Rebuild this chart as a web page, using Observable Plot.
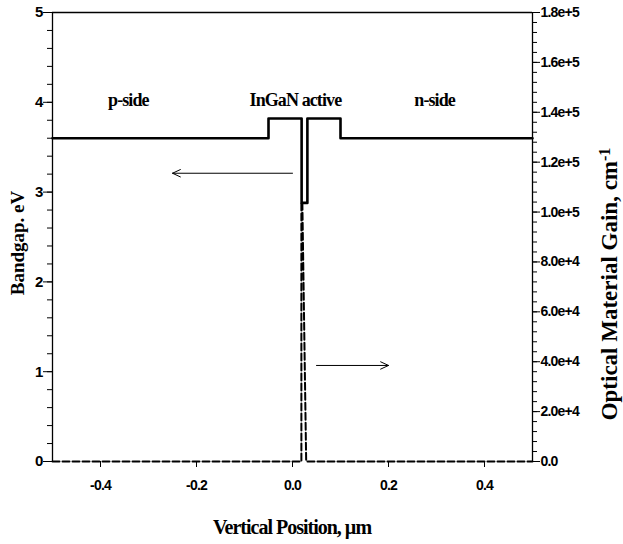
<!DOCTYPE html>
<html><head><meta charset="utf-8">
<script src="https://cdn.jsdelivr.net/npm/d3@7"></script>
<script src="https://cdn.jsdelivr.net/npm/@observablehq/plot@0.6"></script>
<style>
body{margin:0;background:#fff;}
#chart svg{overflow:visible;display:block;}
</style>
</head><body><div id="chart"></div>
<script>
// Bandgap profile (eV) vs vertical position (µm)
const bandX  = [-0.5, -0.05, -0.05, 0.019, 0.019, 0.031, 0.031, 0.1, 0.1, 0.5];
const bandEV = [3.6, 3.6, 3.82, 3.82, 2.88, 2.88, 3.82, 3.82, 3.6, 3.6];
// Optical material gain (cm^-1) vs vertical position (µm)
const gainX   = [-0.5, 0.0185, 0.0185, 0.0205, 0.0285, 0.5];
const gainVal = [0, 0, 104000, 104000, 0, 0];
// Axis ticks
const xTicks    = [-0.4, -0.2, 0.0, 0.2, 0.4];
const eVTicks   = [0, 1, 2, 3, 4, 5];
const gainTicks = [0, 20000, 40000, 60000, 80000, 100000, 120000, 140000, 160000, 180000];
// Region annotations
const regionLabels = ["p-side", "InGaN active", "n-side"];
const regionX      = [-0.342, 0.006, 0.296];
const regionY      = [4.02, 4.02, 4.02];
// Arrows pointing to each curve's axis
const arrowEV   = {x1: 0.0, x2: -0.25, y: 3.21};
const arrowGain = {x1: 0.05, x2: 0.2, y: 38500};

const GMAX = 180000, EMAX = 5;
const toEV = g => g / GMAX * EMAX;
const fmtGain = g => { const v = Math.round(g); return v === 0 ? "0.0" : d3.format(".1e")(v); };

const band = bandX.map((x, i) => ({x, y: bandEV[i]}));
const gain = gainX.map((x, i) => ({x, y: toEV(gainVal[i])}));
const regions = regionLabels.map((t, i) => ({t, x: regionX[i], y: regionY[i]}));
const arrows = [
  {x1: arrowEV.x1, x2: arrowEV.x2, y: arrowEV.y},
  {x1: arrowGain.x1, x2: arrowGain.x2, y: toEV(arrowGain.y)}
];

const tickFont = {fontFamily: "Liberation Sans, Arial, sans-serif", fontWeight: "bold", fontSize: 14};

const plot = Plot.plot({
  width: 623, height: 544,
  marginLeft: 52, marginRight: 91, marginTop: 12, marginBottom: 83,
  x: {domain: [-0.5, 0.5]},
  y: {domain: [0, EMAX]},
  marks: [
    Plot.axisY(d3.range(0, 5.0001, 0.2), {anchor: "left", tickSize: 5, tickFormat: () => "", label: null}),
    Plot.axisY(eVTicks, {anchor: "left", tickSize: 9, tickPadding: 1, label: null,
      tickFormat: d => String(d), ...tickFont, fontSize: 15}),
    Plot.axisY(d3.range(0, GMAX + 1, 4000).map(toEV), {anchor: "right", tickSize: 4, tickFormat: () => "", label: null}),
    Plot.axisY(gainTicks.map(toEV), {anchor: "right", tickSize: 7, tickPadding: 1, label: null,
      tickFormat: d => fmtGain(d * GMAX / EMAX), ...tickFont}),
    Plot.axisX(xTicks, {anchor: "bottom", tickSize: 6, tickPadding: 13, label: null,
      tickFormat: d => d.toFixed(1), ...tickFont}),
    Plot.ruleX([-0.5, 0.5], {y1: 0, y2: EMAX, stroke: "#000", strokeWidth: 1.3}),
    Plot.ruleY([EMAX], {stroke: "#000", strokeWidth: 1.3}),
    Plot.line(gain, {x: "x", y: "y", stroke: "#000", strokeWidth: 2, strokeDasharray: "7,3"}),
    Plot.line(band, {x: "x", y: "y", stroke: "#000", strokeWidth: 2.6}),
    Plot.arrow(arrows, {x1: "x1", x2: "x2", y1: "y", y2: "y", stroke: "#000", strokeWidth: 1, headLength: 13, headAngle: 50}),
    Plot.text(regions, {x: "x", y: "y", text: "t", fontFamily: "Liberation Serif, Times New Roman, serif",
      fontWeight: "bold", fontSize: 18, fill: "#000"})
  ]
});
document.getElementById("chart").appendChild(plot);

const svg = d3.select(plot);
svg.selectAll("text").attr("fill", "#000");
svg.selectAll("[aria-label='text'] text").style("letter-spacing", "-0.9px");
svg.selectAll("g[aria-label^='y-axis tick label'] text, g[aria-label^='x-axis tick label'] text").style("letter-spacing", "-0.8px");

const serif = "Liberation Serif, Times New Roman, serif";
// Left axis label
svg.append("text")
  .attr("transform", "translate(24,243) rotate(-90)")
  .attr("text-anchor", "middle")
  .style("font-family", serif).style("font-weight", "bold").style("font-size", "19px")
  .text("Bandgap. eV");
// Right axis label
const rl = svg.append("text")
  .attr("transform", "translate(617,284) rotate(-90)")
  .attr("text-anchor", "middle")
  .style("font-family", serif).style("font-weight", "bold").style("font-size", "23px");
rl.append("tspan").text("Optical Material Gain, cm");
rl.append("tspan").attr("dy", "-0.45em").style("font-size", "16px").text("-1");
// Bottom axis label
svg.append("text")
  .attr("x", 292).attr("y", 534)
  .attr("text-anchor", "middle")
  .style("font-family", serif).style("font-weight", "bold").style("font-size", "20px")
  .style("letter-spacing", "-1px")
  .text("Vertical Position, µm");
</script>
</body></html>
